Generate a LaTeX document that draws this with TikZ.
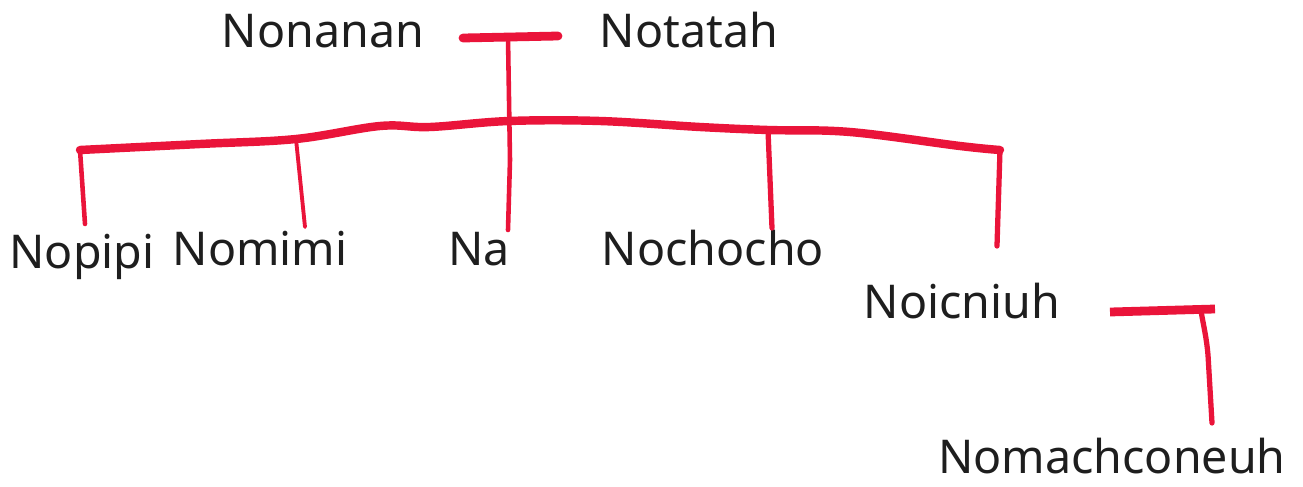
\documentclass[tikz,border=0pt]{standalone}
\usepackage{fontspec}
\setmainfont{Noto Sans}
\definecolor{pen}{RGB}{234,20,58}
\definecolor{ink}{RGB}{30,30,30}

\begin{document}
\begin{tikzpicture}[x=0.02cm,y=-0.02cm,
  person/.style={font=\fontsize{26.5}{30}\selectfont, text=ink, inner sep=0pt, anchor=base},
  bar/.style={draw=pen, line width=5pt, line cap=round, line join=round},
  drop/.style={draw=pen, line width=2.6pt, line cap=round}]

\useasboundingbox (0,0) rectangle (1303,487);

% parents
\node[person] (nonanan) at (323,47) {Nonanan};
\node[person] (notatah) at (689,47) {Notatah};

% children
\node[person] (nopipi) at (82,268) {Nopipi};
\node[person] (nomimi) at (260,265) {Nomimi};
\node[person] (na) at (479,265) {Na};
\node[person] (nochocho) at (713,265) {Nochocho};
\node[person] (noicniuh) at (962,318) {Noicniuh};
\node[person, text depth=0pt] (nomachconeuh) at (1112,473) {Nomachconeuh};

% marriage bars
\coordinate (m1l) at (463,38);
\coordinate (m1r) at (558,36);
\coordinate (m1) at (508,38);
\draw[bar] (m1l) -- (m1r);

\coordinate (m2l) at (1110,312);
\coordinate (m2r) at (1215,309);
\coordinate (m2) at (1201,311);
\draw[bar, line cap=butt] (m2l) -- (m2r);

% sibling line
\coordinate (s1) at (80,150);
\coordinate (s2) at (296,139);
\coordinate (s3) at (509,121);
\coordinate (s4) at (768,130);
\coordinate (s5) at (1000,150);
\draw[bar, line width=4.8pt] plot[smooth, tension=0.6] coordinates
  {(s1) (200,144) (s2) (380,126) (430,127) (s3) (600,121) (700,127) (s4) (850,132) (960,146) (s5)};

% drops to the children
\draw[drop] (s1) -- (85,224);
\draw[drop, line width=2.2pt] (s2) -- (305,227);
\draw[drop] (m1) -- (510,160) -- (508,230);
\draw[drop, line width=3pt] (s4) -- (772,228);
\draw[drop, line width=3pt] (s5) -- (997,246);
\draw[drop, line width=3pt] (m2) to[out=-80,in=95] (1208,355) -- (1212,423);

\end{tikzpicture}
\end{document}
